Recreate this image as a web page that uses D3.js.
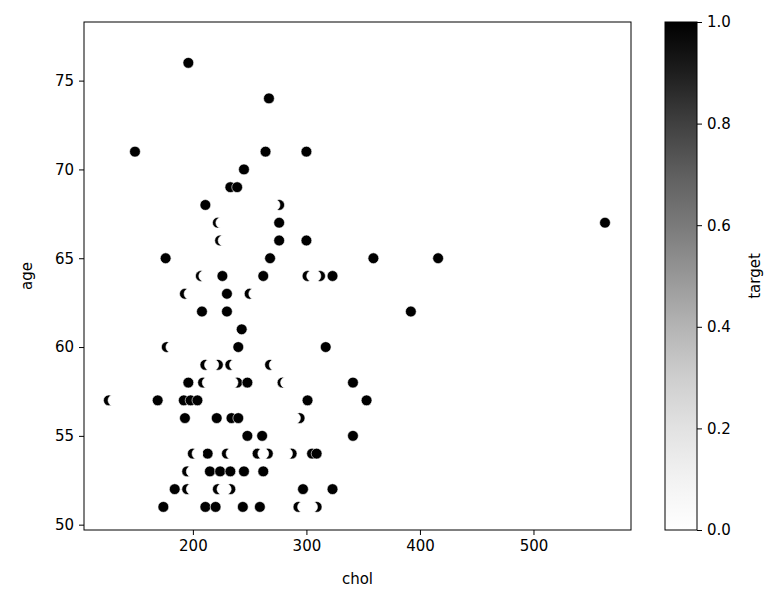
<!DOCTYPE html>
<html><head><meta charset="utf-8">
<script src="https://cdn.jsdelivr.net/npm/d3@7"></script>
<style>body{margin:0;background:#fff}text{font-family:"DejaVu Sans",sans-serif}</style>
</head><body><svg id="c" width="776" height="608"></svg>
<script>
const chol=[196,267,149,264,300,245,233,239,211,276,272,222,225,276,563,224,227,276,300,176,268,359,416,207,210,226,262,301,305,312,308,323,193,197,230,250,254,208,230,392,243,177,181,240,317,211,215,222,218,233,237,268,272,196,209,213,220,239,235,248,279,282,341,126,130,169,192,198,204,301,353,193,221,234,240,294,290,248,261,341,200,204,213,230,234,239,257,266,262,287,283,305,309,195,199,215,224,233,245,262,184,195,199,203,222,226,233,229,297,323,174,211,220,244,259,293,297,309,305,250];
const age=[76,74,71,71,71,70,69,69,68,68,68,67,67,67,67,66,66,66,66,65,65,65,65,64,64,64,64,64,64,64,64,64,63,63,63,63,63,62,62,62,61,60,60,60,60,59,59,59,59,59,59,59,59,58,58,58,58,58,58,58,58,58,58,57,57,57,57,57,57,57,57,56,56,56,56,56,56,55,55,55,54,54,54,54,54,54,54,54,54,54,54,54,54,53,53,53,53,53,53,53,52,52,52,52,52,52,52,52,52,52,51,51,51,51,51,51,51,51,51,77];
const target=[1,1,1,1,1,1,1,1,1,1,0,1,0,1,1,1,0,1,1,1,1,1,1,1,0,1,1,1,0,1,0,1,1,0,1,1,0,1,1,1,1,1,0,1,1,1,0,1,0,1,0,1,0,1,1,0,0,1,0,1,1,0,1,1,0,1,1,1,1,1,1,1,1,1,1,1,0,1,1,1,1,0,1,1,0,0,1,1,0,1,0,1,1,1,0,1,1,1,1,1,1,1,0,0,1,0,1,0,1,1,1,1,1,1,1,1,0,1,0,0];
const xTicks=[200,300,400,500], yTicks=[50,55,60,65,70,75], cTicks=[0,0.2,0.4,0.6,0.8,1.0];

const svg=d3.select("#c");
const L=84,R=631,T=22,B=530;
const x=d3.scaleLinear().domain([104.1,585.9]).range([L,R]);
const y=d3.scaleLinear().domain([49.7,78.3]).range([B,T]);
const col=t=>d3.interpolateGreys(t);
const pts=d3.range(chol.length).map(i=>({c:chol[i],a:age[i],t:target[i]})).sort((p,q)=>q.t-p.t);
svg.append("g").selectAll("circle").data(pts).join("circle")
 .attr("cx",d=>x(d.c)).attr("cy",d=>y(d.a)).attr("r",5.4)
 .attr("fill",d=>d.t?"#000":"#fff").attr("stroke","#fff").attr("stroke-width",0.6);
svg.append("rect").attr("x",L).attr("y",T).attr("width",R-L).attr("height",B-T).attr("fill","none").attr("stroke","#000").attr("stroke-width",1);
const xa=svg.append("g").attr("transform",`translate(0,${B})`).call(d3.axisBottom(x).tickValues(xTicks).tickSize(5).tickPadding(5));
const ya=svg.append("g").attr("transform",`translate(${L},0)`).call(d3.axisLeft(y).tickValues(yTicks).tickSize(5).tickPadding(5));
[xa,ya].forEach(g=>{g.select(".domain").remove();g.selectAll("text").attr("font-size",15).attr("font-family","DejaVu Sans").attr("fill","#000");});
svg.append("text").attr("x",(L+R)/2).attr("y",584).attr("text-anchor","middle").attr("font-size",15).text("chol");
svg.append("text").attr("transform",`translate(32,${(T+B)/2}) rotate(-90)`).attr("text-anchor","middle").attr("font-size",15).text("age");
const CX=665,CW=32;
const grad=svg.append("defs").append("linearGradient").attr("id","g").attr("x1",0).attr("y1",1).attr("x2",0).attr("y2",0);
d3.range(0,1.01,0.1).forEach(t=>grad.append("stop").attr("offset",t).attr("stop-color",col(t)));
svg.append("rect").attr("x",CX).attr("y",T).attr("width",CW).attr("height",B-T).attr("fill","url(#g)").attr("stroke","#000").attr("stroke-width",1);
const cy=d3.scaleLinear().domain([0,1]).range([B,T]);
const ca=svg.append("g").attr("transform",`translate(${CX+CW},0)`).call(d3.axisRight(cy).tickValues(cTicks).tickFormat(d3.format(".1f")).tickSize(5).tickPadding(5));
ca.select(".domain").remove();ca.selectAll("text").attr("font-size",15).attr("font-family","DejaVu Sans").attr("fill","#000");
svg.append("text").attr("transform",`translate(760,${(T+B)/2}) rotate(-90)`).attr("text-anchor","middle").attr("font-size",15).text("target");
</script></body></html>
